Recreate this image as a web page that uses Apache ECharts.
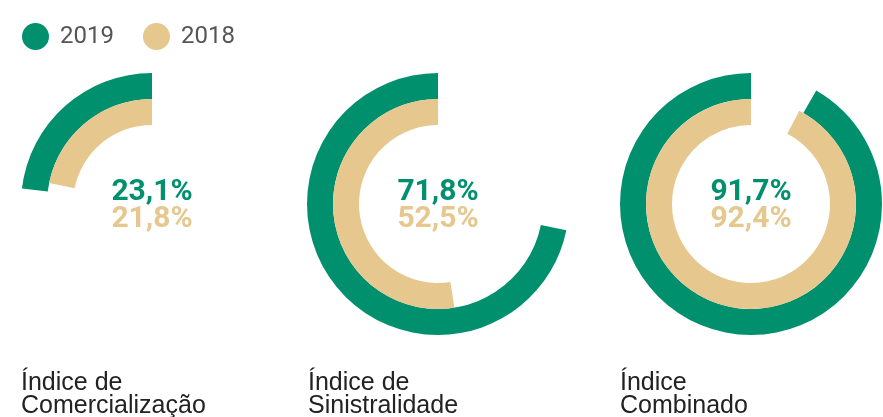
<!DOCTYPE html>
<html>
<head>
<meta charset="utf-8">
<script src="https://cdn.jsdelivr.net/npm/echarts@6/dist/echarts.min.js"></script>
<style>
  html, body { margin: 0; padding: 0; background: #fff; }
  #chart { width: 883px; height: 417px; }
</style>
</head>
<body>
<div id="chart"></div>
<script>
// dados
const years = ["2019", "2018"];
const indices = ["Índice de\nComercialização", "Índice de\nSinistralidade", "Índice\nCombinado"];
const values2019 = [23.1, 71.8, 91.7];
const values2018 = [21.8, 52.5, 92.4];

const GREEN = "#00906e";
const BEIGE = "#e6c78e";
const centersX = [152, 438, 751];
const centerY = 204;
const labelX = [21, 308, 620];

const fmt = (v) => v.toFixed(1).replace(".", ",") + "%";

function ring(i, val, name, color, radius) {
  return {
    type: "pie",
    center: [centersX[i], centerY],
    radius: radius,
    startAngle: 90,
    clockwise: false,
    silent: true,
    animation: false,
    label: { show: false },
    labelLine: { show: false },
    emphasis: { disabled: true },
    data: [
      { name: name, value: val, itemStyle: { color: color } },
      { name: "resto", value: 100 - val, itemStyle: { color: "rgba(0,0,0,0)" } },
    ],
  };
}

const series = [];
const graphics = [];
indices.forEach((label, i) => {
  series.push(ring(i, values2019[i], years[0], GREEN, [105, 131]));
  series.push(ring(i, values2018[i], years[1], BEIGE, [79, 105]));
  graphics.push({
    type: "text", x: centersX[i], y: 192,
    style: { text: fmt(values2019[i]), fill: GREEN, font: "bold 30px Roboto", align: "center", verticalAlign: "middle" },
  });
  graphics.push({
    type: "text", x: centersX[i], y: 219,
    style: { text: fmt(values2018[i]), fill: BEIGE, font: "bold 30px Roboto", align: "center", verticalAlign: "middle" },
  });
  label.split("\n").forEach((line, k) => {
    graphics.push({
      type: "text", x: labelX[i], y: 383 + k * 23,
      style: { text: line, fill: "#222", font: "25px 'Liberation Sans'", align: "left", verticalAlign: "middle" },
    });
  });
});

const chart = echarts.init(document.getElementById("chart"));
chart.setOption({
  animation: false,
  legend: {
    data: years,
    left: 17,
    top: 18,
    icon: "circle",
    itemWidth: 27,
    itemHeight: 27,
    itemGap: 29,
    selectedMode: false,
    textStyle: { fontSize: 24, color: "#555", fontFamily: "Roboto", padding: [0, 0, 0, 6] },
  },
  series: series,
  graphic: graphics,
});
</script>
</body>
</html>
